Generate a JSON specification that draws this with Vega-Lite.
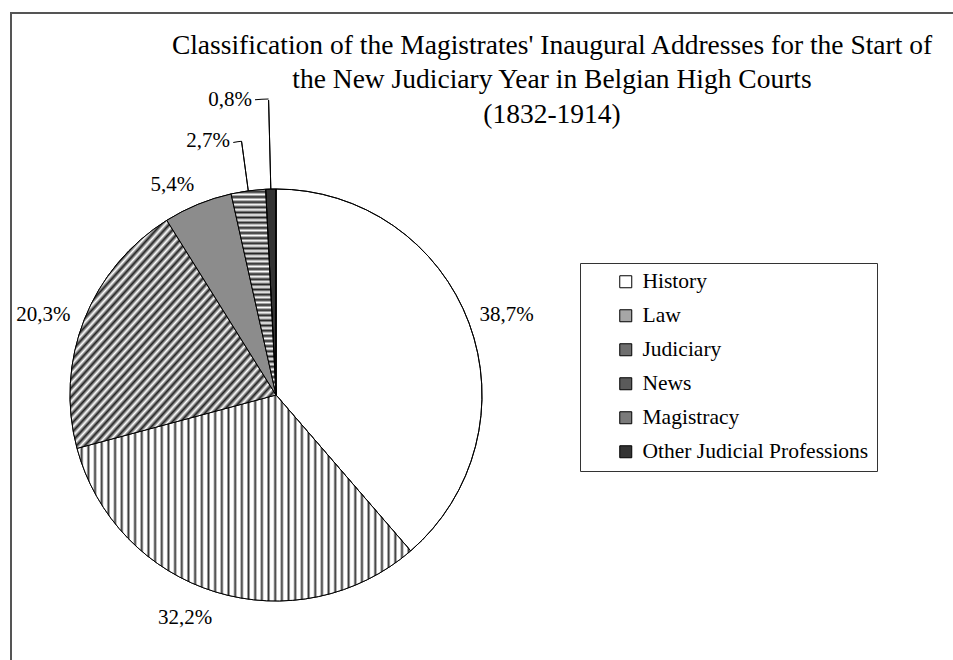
{
  "$schema": "https://vega.github.io/schema/vega-lite/v6.json",
  "width": 942,
  "height": 647,
  "autosize": "none",
  "padding": {"left": 11, "top": 13, "right": 0, "bottom": 0},
  "background": "#ffffff",
  "view": {"stroke": "#555555", "strokeWidth": 2, "strokeDash": [942, 1589, 700]},
  "config": {
    "view": {"stroke": "#555555", "strokeWidth": 2, "strokeDash": [942, 1589, 700]},
    "font": "Liberation Serif"
  },
  "title": {
    "text": ["Classification of the Magistrates' Inaugural Addresses for the Start of", "the New Judiciary Year in Belgian High Courts ", "(1832-1914)"],
    "font": "Liberation Serif",
    "fontSize": 27.5,
    "fontWeight": "normal",
    "color": "#000000",
    "lineHeight": 34.5,
    "anchor": "middle",
    "frame": "group",
    "orient": "top",
    "baseline": "top",
    "offset": -115,
    "dx": 70
  },
  "data": {
    "values": [
      {"category": "History", "pct": 38.7, "label": "38,7%", "idx": 1},
      {"category": "Law", "pct": 32.2, "label": "32,2%", "idx": 2},
      {"category": "Judiciary", "pct": 20.3, "label": "20,3%", "idx": 3},
      {"category": "News", "pct": 5.4, "label": "5,4%", "idx": 4},
      {"category": "Magistracy", "pct": 2.7, "label": "2,7%", "idx": 5},
      {"category": "Other Judicial Professions", "pct": 0.8, "label": "0,8%", "idx": 6}
    ]
  },
  "encoding": {
    "theta": {"field": "pct", "type": "quantitative", "stack": true},
    "order": {"field": "idx", "type": "quantitative", "sort": "ascending"},
    "detail": {"field": "category", "type": "nominal"}
  },
  "layer": [
    {
      "mark": {"type": "arc", "x": 265, "y": 382, "outerRadius": 206, "stroke": "#000000", "strokeWidth": 1},
      "encoding": {
        "color": {
          "field": "category",
          "type": "nominal",
          "scale": {
            "domain": ["History", "Law", "Judiciary", "News", "Magistracy", "Other Judicial Professions"],
            "range": ["#ffffff", "#a6a6a6", "#6e6e6e", "#5a5a5a", "#7a7a7a", "#333333"]
          },
          "legend": {
            "orient": "none",
            "legendX": 569,
            "legendY": 250,
            "title": null,
            "strokeColor": "#333333",
            "padding": 8,
            "symbolType": "square",
            "symbolSize": 144,
            "symbolStrokeColor": "#000000",
            "symbolStrokeWidth": 1,
            "symbolOffset": 27,
            "labelFont": "Liberation Serif",
            "labelFontSize": 21.5,
            "labelColor": "#000000",
            "labelOffset": 6,
            "labelLimit": 400,
            "rowPadding": 11
          }
        }
      }
    },
    {
      "mark": {"type": "arc", "x": 265, "y": 382, "outerRadius": 206, "stroke": "#000000", "strokeWidth": 1},
      "encoding": {
        "fill": {
          "condition": [
            {"test": "datum.category === 'Law'", "value": {"gradient": "linear", "x1": 0, "y1": 0, "x2": 1, "y2": 0, "stops": [
              {"offset":0,"color":"#fff"},{"offset":0.008,"color":"#fff"},{"offset":0.014,"color":"#333"},
              {"offset":0.02,"color":"#fff"},{"offset":0.028,"color":"#fff"},{"offset":0.034,"color":"#333"},
              {"offset":0.04,"color":"#fff"},{"offset":0.048,"color":"#fff"},{"offset":0.054,"color":"#333"},
              {"offset":0.06,"color":"#fff"},{"offset":0.068,"color":"#fff"},{"offset":0.074,"color":"#333"},
              {"offset":0.08,"color":"#fff"},{"offset":0.088,"color":"#fff"},{"offset":0.094,"color":"#333"},
              {"offset":0.10,"color":"#fff"},{"offset":0.108,"color":"#fff"},{"offset":0.114,"color":"#333"},
              {"offset":0.12,"color":"#fff"},{"offset":0.128,"color":"#fff"},{"offset":0.134,"color":"#333"},
              {"offset":0.14,"color":"#fff"},{"offset":0.148,"color":"#fff"},{"offset":0.154,"color":"#333"},
              {"offset":0.16,"color":"#fff"},{"offset":0.168,"color":"#fff"},{"offset":0.174,"color":"#333"},
              {"offset":0.18,"color":"#fff"},{"offset":0.188,"color":"#fff"},{"offset":0.194,"color":"#333"},
              {"offset":0.20,"color":"#fff"},{"offset":0.208,"color":"#fff"},{"offset":0.214,"color":"#333"},
              {"offset":0.22,"color":"#fff"},{"offset":0.228,"color":"#fff"},{"offset":0.234,"color":"#333"},
              {"offset":0.24,"color":"#fff"},{"offset":0.248,"color":"#fff"},{"offset":0.254,"color":"#333"},
              {"offset":0.26,"color":"#fff"},{"offset":0.268,"color":"#fff"},{"offset":0.274,"color":"#333"},
              {"offset":0.28,"color":"#fff"},{"offset":0.288,"color":"#fff"},{"offset":0.294,"color":"#333"},
              {"offset":0.30,"color":"#fff"},{"offset":0.308,"color":"#fff"},{"offset":0.314,"color":"#333"},
              {"offset":0.32,"color":"#fff"},{"offset":0.328,"color":"#fff"},{"offset":0.334,"color":"#333"},
              {"offset":0.34,"color":"#fff"},{"offset":0.348,"color":"#fff"},{"offset":0.354,"color":"#333"},
              {"offset":0.36,"color":"#fff"},{"offset":0.368,"color":"#fff"},{"offset":0.374,"color":"#333"},
              {"offset":0.38,"color":"#fff"},{"offset":0.388,"color":"#fff"},{"offset":0.394,"color":"#333"},
              {"offset":0.40,"color":"#fff"},{"offset":0.408,"color":"#fff"},{"offset":0.414,"color":"#333"},
              {"offset":0.42,"color":"#fff"},{"offset":0.428,"color":"#fff"},{"offset":0.434,"color":"#333"},
              {"offset":0.44,"color":"#fff"},{"offset":0.448,"color":"#fff"},{"offset":0.454,"color":"#333"},
              {"offset":0.46,"color":"#fff"},{"offset":0.468,"color":"#fff"},{"offset":0.474,"color":"#333"},
              {"offset":0.48,"color":"#fff"},{"offset":0.488,"color":"#fff"},{"offset":0.494,"color":"#333"},
              {"offset":0.50,"color":"#fff"},{"offset":0.508,"color":"#fff"},{"offset":0.514,"color":"#333"},
              {"offset":0.52,"color":"#fff"},{"offset":0.528,"color":"#fff"},{"offset":0.534,"color":"#333"},
              {"offset":0.54,"color":"#fff"},{"offset":0.548,"color":"#fff"},{"offset":0.554,"color":"#333"},
              {"offset":0.56,"color":"#fff"},{"offset":0.568,"color":"#fff"},{"offset":0.574,"color":"#333"},
              {"offset":0.58,"color":"#fff"},{"offset":0.588,"color":"#fff"},{"offset":0.594,"color":"#333"},
              {"offset":0.60,"color":"#fff"},{"offset":0.608,"color":"#fff"},{"offset":0.614,"color":"#333"},
              {"offset":0.62,"color":"#fff"},{"offset":0.628,"color":"#fff"},{"offset":0.634,"color":"#333"},
              {"offset":0.64,"color":"#fff"},{"offset":0.648,"color":"#fff"},{"offset":0.654,"color":"#333"},
              {"offset":0.66,"color":"#fff"},{"offset":0.668,"color":"#fff"},{"offset":0.674,"color":"#333"},
              {"offset":0.68,"color":"#fff"},{"offset":0.688,"color":"#fff"},{"offset":0.694,"color":"#333"},
              {"offset":0.70,"color":"#fff"},{"offset":0.708,"color":"#fff"},{"offset":0.714,"color":"#333"},
              {"offset":0.72,"color":"#fff"},{"offset":0.728,"color":"#fff"},{"offset":0.734,"color":"#333"},
              {"offset":0.74,"color":"#fff"},{"offset":0.748,"color":"#fff"},{"offset":0.754,"color":"#333"},
              {"offset":0.76,"color":"#fff"},{"offset":0.768,"color":"#fff"},{"offset":0.774,"color":"#333"},
              {"offset":0.78,"color":"#fff"},{"offset":0.788,"color":"#fff"},{"offset":0.794,"color":"#333"},
              {"offset":0.80,"color":"#fff"},{"offset":0.808,"color":"#fff"},{"offset":0.814,"color":"#333"},
              {"offset":0.82,"color":"#fff"},{"offset":0.828,"color":"#fff"},{"offset":0.834,"color":"#333"},
              {"offset":0.84,"color":"#fff"},{"offset":0.848,"color":"#fff"},{"offset":0.854,"color":"#333"},
              {"offset":0.86,"color":"#fff"},{"offset":0.868,"color":"#fff"},{"offset":0.874,"color":"#333"},
              {"offset":0.88,"color":"#fff"},{"offset":0.888,"color":"#fff"},{"offset":0.894,"color":"#333"},
              {"offset":0.90,"color":"#fff"},{"offset":0.908,"color":"#fff"},{"offset":0.914,"color":"#333"},
              {"offset":0.92,"color":"#fff"},{"offset":0.928,"color":"#fff"},{"offset":0.934,"color":"#333"},
              {"offset":0.94,"color":"#fff"},{"offset":0.948,"color":"#fff"},{"offset":0.954,"color":"#333"},
              {"offset":0.96,"color":"#fff"},{"offset":0.968,"color":"#fff"},{"offset":0.974,"color":"#333"},
              {"offset":0.98,"color":"#fff"},{"offset":0.988,"color":"#fff"},{"offset":0.994,"color":"#333"},
              {"offset":1,"color":"#fff"}
            ]}},
            {"test": "datum.category === 'Judiciary'", "value": {"gradient": "linear", "x1": 0, "y1": 0, "x2": 1, "y2": 1, "stops": [
              {"offset":0,"color":"#fff"},{"offset":0.01,"color":"#222"},{"offset":0.02,"color":"#fff"},{"offset":0.03,"color":"#222"},
              {"offset":0.04,"color":"#fff"},{"offset":0.05,"color":"#222"},{"offset":0.06,"color":"#fff"},{"offset":0.07,"color":"#222"},
              {"offset":0.08,"color":"#fff"},{"offset":0.09,"color":"#222"},{"offset":0.10,"color":"#fff"},{"offset":0.11,"color":"#222"},
              {"offset":0.12,"color":"#fff"},{"offset":0.13,"color":"#222"},{"offset":0.14,"color":"#fff"},{"offset":0.15,"color":"#222"},
              {"offset":0.16,"color":"#fff"},{"offset":0.17,"color":"#222"},{"offset":0.18,"color":"#fff"},{"offset":0.19,"color":"#222"},
              {"offset":0.20,"color":"#fff"},{"offset":0.21,"color":"#222"},{"offset":0.22,"color":"#fff"},{"offset":0.23,"color":"#222"},
              {"offset":0.24,"color":"#fff"},{"offset":0.25,"color":"#222"},{"offset":0.26,"color":"#fff"},{"offset":0.27,"color":"#222"},
              {"offset":0.28,"color":"#fff"},{"offset":0.29,"color":"#222"},{"offset":0.30,"color":"#fff"},{"offset":0.31,"color":"#222"},
              {"offset":0.32,"color":"#fff"},{"offset":0.33,"color":"#222"},{"offset":0.34,"color":"#fff"},{"offset":0.35,"color":"#222"},
              {"offset":0.36,"color":"#fff"},{"offset":0.37,"color":"#222"},{"offset":0.38,"color":"#fff"},{"offset":0.39,"color":"#222"},
              {"offset":0.40,"color":"#fff"},{"offset":0.41,"color":"#222"},{"offset":0.42,"color":"#fff"},{"offset":0.43,"color":"#222"},
              {"offset":0.44,"color":"#fff"},{"offset":0.45,"color":"#222"},{"offset":0.46,"color":"#fff"},{"offset":0.47,"color":"#222"},
              {"offset":0.48,"color":"#fff"},{"offset":0.49,"color":"#222"},{"offset":0.50,"color":"#fff"},{"offset":0.51,"color":"#222"},
              {"offset":0.52,"color":"#fff"},{"offset":0.53,"color":"#222"},{"offset":0.54,"color":"#fff"},{"offset":0.55,"color":"#222"},
              {"offset":0.56,"color":"#fff"},{"offset":0.57,"color":"#222"},{"offset":0.58,"color":"#fff"},{"offset":0.59,"color":"#222"},
              {"offset":0.60,"color":"#fff"},{"offset":0.61,"color":"#222"},{"offset":0.62,"color":"#fff"},{"offset":0.63,"color":"#222"},
              {"offset":0.64,"color":"#fff"},{"offset":0.65,"color":"#222"},{"offset":0.66,"color":"#fff"},{"offset":0.67,"color":"#222"},
              {"offset":0.68,"color":"#fff"},{"offset":0.69,"color":"#222"},{"offset":0.70,"color":"#fff"},{"offset":0.71,"color":"#222"},
              {"offset":0.72,"color":"#fff"},{"offset":0.73,"color":"#222"},{"offset":0.74,"color":"#fff"},{"offset":0.75,"color":"#222"},
              {"offset":0.76,"color":"#fff"},{"offset":0.77,"color":"#222"},{"offset":0.78,"color":"#fff"},{"offset":0.79,"color":"#222"},
              {"offset":0.80,"color":"#fff"},{"offset":0.81,"color":"#222"},{"offset":0.82,"color":"#fff"},{"offset":0.83,"color":"#222"},
              {"offset":0.84,"color":"#fff"},{"offset":0.85,"color":"#222"},{"offset":0.86,"color":"#fff"},{"offset":0.87,"color":"#222"},
              {"offset":0.88,"color":"#fff"},{"offset":0.89,"color":"#222"},{"offset":0.90,"color":"#fff"},{"offset":0.91,"color":"#222"},
              {"offset":0.92,"color":"#fff"},{"offset":0.93,"color":"#222"},{"offset":0.94,"color":"#fff"},{"offset":0.95,"color":"#222"},
              {"offset":0.96,"color":"#fff"},{"offset":0.97,"color":"#222"},{"offset":0.98,"color":"#fff"},{"offset":0.99,"color":"#222"},
              {"offset":1,"color":"#fff"}
            ]}},
            {"test": "datum.category === 'Magistracy'", "value": {"gradient": "linear", "x1": 0, "y1": 0, "x2": 0, "y2": 1, "stops": [
              {"offset":0,"color":"#fff"},{"offset":0.0125,"color":"#222"},{"offset":0.025,"color":"#fff"},{"offset":0.0375,"color":"#222"},
              {"offset":0.05,"color":"#fff"},{"offset":0.0625,"color":"#222"},{"offset":0.075,"color":"#fff"},{"offset":0.0875,"color":"#222"},
              {"offset":0.1,"color":"#fff"},{"offset":0.1125,"color":"#222"},{"offset":0.125,"color":"#fff"},{"offset":0.1375,"color":"#222"},
              {"offset":0.15,"color":"#fff"},{"offset":0.1625,"color":"#222"},{"offset":0.175,"color":"#fff"},{"offset":0.1875,"color":"#222"},
              {"offset":0.2,"color":"#fff"},{"offset":0.2125,"color":"#222"},{"offset":0.225,"color":"#fff"},{"offset":0.2375,"color":"#222"},
              {"offset":0.25,"color":"#fff"},{"offset":0.2625,"color":"#222"},{"offset":0.275,"color":"#fff"},{"offset":0.2875,"color":"#222"},
              {"offset":0.3,"color":"#fff"},{"offset":0.3125,"color":"#222"},{"offset":0.325,"color":"#fff"},{"offset":0.3375,"color":"#222"},
              {"offset":0.35,"color":"#fff"},{"offset":0.3625,"color":"#222"},{"offset":0.375,"color":"#fff"},{"offset":0.3875,"color":"#222"},
              {"offset":0.4,"color":"#fff"},{"offset":0.4125,"color":"#222"},{"offset":0.425,"color":"#fff"},{"offset":0.4375,"color":"#222"},
              {"offset":0.45,"color":"#fff"},{"offset":0.4625,"color":"#222"},{"offset":0.475,"color":"#fff"},{"offset":0.4875,"color":"#222"},
              {"offset":0.5,"color":"#fff"},{"offset":0.5125,"color":"#222"},{"offset":0.525,"color":"#fff"},{"offset":0.5375,"color":"#222"},
              {"offset":0.55,"color":"#fff"},{"offset":0.5625,"color":"#222"},{"offset":0.575,"color":"#fff"},{"offset":0.5875,"color":"#222"},
              {"offset":0.6,"color":"#fff"},{"offset":0.6125,"color":"#222"},{"offset":0.625,"color":"#fff"},{"offset":0.6375,"color":"#222"},
              {"offset":0.65,"color":"#fff"},{"offset":0.6625,"color":"#222"},{"offset":0.675,"color":"#fff"},{"offset":0.6875,"color":"#222"},
              {"offset":0.7,"color":"#fff"},{"offset":0.7125,"color":"#222"},{"offset":0.725,"color":"#fff"},{"offset":0.7375,"color":"#222"},
              {"offset":0.75,"color":"#fff"},{"offset":0.7625,"color":"#222"},{"offset":0.775,"color":"#fff"},{"offset":0.7875,"color":"#222"},
              {"offset":0.8,"color":"#fff"},{"offset":0.8125,"color":"#222"},{"offset":0.825,"color":"#fff"},{"offset":0.8375,"color":"#222"},
              {"offset":0.85,"color":"#fff"},{"offset":0.8625,"color":"#222"},{"offset":0.875,"color":"#fff"},{"offset":0.8875,"color":"#222"},
              {"offset":0.9,"color":"#fff"},{"offset":0.9125,"color":"#222"},{"offset":0.925,"color":"#fff"},{"offset":0.9375,"color":"#222"},
              {"offset":0.95,"color":"#fff"},{"offset":0.9625,"color":"#222"},{"offset":0.975,"color":"#fff"},{"offset":0.9875,"color":"#222"},
              {"offset":1,"color":"#fff"}
            ]}},
            {"test": "datum.category === 'News'", "value": "#8c8c8c"}
          ],
          "value": null
        }
      }
    },
    {
      "mark": {"type": "arc", "x": 265, "y": 382, "innerRadius": 206, "outerRadius": 256, "padAngle": 1, "filled": false, "stroke": "#000000", "strokeWidth": 1},
      "encoding": {"opacity": {"condition": {"test": "datum.category === 'Magistracy'", "value": 1}, "value": 0}}
    },
    {
      "mark": {"type": "arc", "x": 265, "y": 382, "innerRadius": 255.5, "outerRadius": 256.5, "thetaOffset": -0.0164, "padAngle": 0.0966, "fill": "#000000", "strokeWidth": 0},
      "encoding": {"opacity": {"condition": {"test": "datum.category === 'Magistracy'", "value": 1}, "value": 0}}
    },
    {
      "mark": {"type": "arc", "x": 265, "y": 382, "innerRadius": 206, "outerRadius": 295, "padAngle": 1, "filled": false, "stroke": "#000000", "strokeWidth": 1},
      "encoding": {"opacity": {"condition": {"test": "datum.category === 'Other Judicial Professions'", "value": 1}, "value": 0}}
    },
    {
      "mark": {"type": "arc", "x": 265, "y": 382, "innerRadius": 295.5, "outerRadius": 296.5, "thetaOffset": -0.02295, "padAngle": 0.00309, "fill": "#000000", "strokeWidth": 0},
      "encoding": {"opacity": {"condition": {"test": "datum.category === 'Other Judicial Professions'", "value": 1}, "value": 0}}
    },
    {
      "mark": {"type": "text", "x": 265, "y": 382, "radius": 244, "thetaOffset": 0.023, "font": "Liberation Serif", "fontSize": 21, "color": "#000000", "align": "center", "baseline": "middle"},
      "encoding": {"text": {"field": "label"}, "opacity": {"condition": {"test": "datum.category === 'History'", "value": 1}, "value": 0}}
    },
    {
      "mark": {"type": "text", "x": 265, "y": 382, "radius": 241, "thetaOffset": 0.089, "font": "Liberation Serif", "fontSize": 21, "color": "#000000", "align": "center", "baseline": "middle"},
      "encoding": {"text": {"field": "label"}, "opacity": {"condition": {"test": "datum.category === 'Law'", "value": 1}, "value": 0}}
    },
    {
      "mark": {"type": "text", "x": 265, "y": 382, "radius": 246, "thetaOffset": -0.044, "font": "Liberation Serif", "fontSize": 21, "color": "#000000", "align": "center", "baseline": "middle"},
      "encoding": {"text": {"field": "label"}, "opacity": {"condition": {"test": "datum.category === 'Judiciary'", "value": 1}, "value": 0}}
    },
    {
      "mark": {"type": "text", "x": 265, "y": 382, "radius": 234, "thetaOffset": -0.070, "font": "Liberation Serif", "fontSize": 21, "color": "#000000", "align": "center", "baseline": "middle"},
      "encoding": {"text": {"field": "label"}, "opacity": {"condition": {"test": "datum.category === 'News'", "value": 1}, "value": 0}}
    },
    {
      "mark": {"type": "text", "x": 265, "y": 382, "radius": 258, "thetaOffset": -0.0443, "font": "Liberation Serif", "fontSize": 21, "color": "#000000", "align": "right", "baseline": "middle"},
      "encoding": {"text": {"field": "label"}, "opacity": {"condition": {"test": "datum.category === 'Magistracy'", "value": 1}, "value": 0}}
    },
    {
      "mark": {"type": "text", "x": 265, "y": 382, "radius": 296, "thetaOffset": -0.0560, "font": "Liberation Serif", "fontSize": 21, "color": "#000000", "align": "right", "baseline": "middle"},
      "encoding": {"text": {"field": "label"}, "opacity": {"condition": {"test": "datum.category === 'Other Judicial Professions'", "value": 1}, "value": 0}}
    }
  ]
}
